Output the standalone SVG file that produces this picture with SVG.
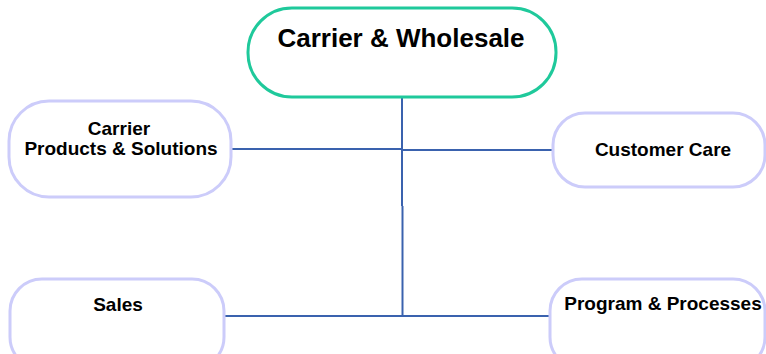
<svg xmlns="http://www.w3.org/2000/svg" width="766" height="354" viewBox="0 0 766 354">
<style>
.n{fill:#fff;stroke:#ccccfa;stroke-width:3}
.top{fill:#fff;stroke:#1fc99b;stroke-width:3}
.t{font-family:"Liberation Sans",Arial,sans-serif;font-weight:bold;fill:#000;text-anchor:middle}
.s{font-size:19px}
.c{stroke:#3a62ae;stroke-width:2;fill:none}
</style>
<rect width="766" height="354" fill="#fff"/>
<g id="connectors">
<line class="c" x1="402" y1="97" x2="402" y2="206"/>
<line class="c" x1="402.5" y1="206" x2="402.5" y2="317"/>
<line class="c" x1="231" y1="149" x2="402" y2="149"/>
<line class="c" x1="402" y1="150" x2="553" y2="150"/>
<line class="c" x1="224" y1="316" x2="550" y2="316"/>
</g>
<g id="carrier-wholesale">
<rect class="top" x="248" y="8" width="308" height="89" rx="44" ry="44"/>
<text class="t" x="401" y="47" font-size="26">Carrier &amp; Wholesale</text>
</g>
<g id="carrier-products">
<rect class="n" x="9" y="101" width="222" height="96" rx="40" ry="40"/>
<text class="t s" x="119" y="135">Carrier</text>
<text class="t s" x="121" y="155">Products &amp; Solutions</text>
</g>
<g id="customer-care">
<rect class="n" x="553" y="113" width="212" height="74" rx="32" ry="32"/>
<text class="t s" x="663" y="156">Customer Care</text>
</g>
<g id="sales">
<rect class="n" x="10" y="279" width="214" height="90" rx="32" ry="32"/>
<text class="t s" x="118" y="311">Sales</text>
</g>
<g id="program-processes">
<rect class="n" x="550" y="279" width="215" height="90" rx="32" ry="32"/>
<text class="t s" x="663" y="310">Program &amp; Processes</text>
</g>
</svg>
